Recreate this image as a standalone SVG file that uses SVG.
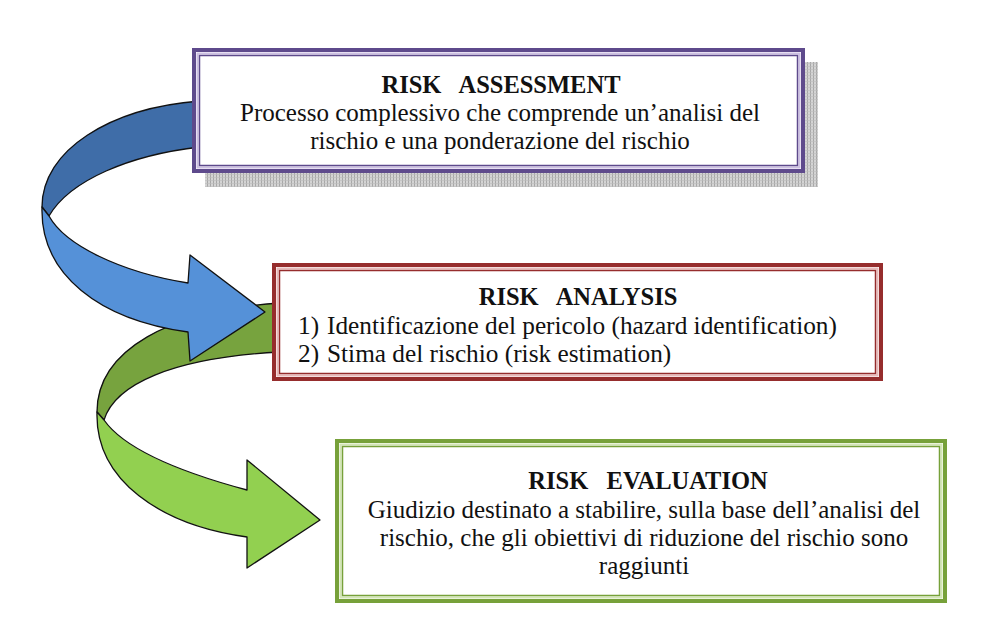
<svg xmlns="http://www.w3.org/2000/svg" width="1008" height="643" viewBox="0 0 1008 643">
<style>
  .t { font-family: "Liberation Serif", "Times New Roman", "DejaVu Serif", serif; font-size: 25px; fill: #111; white-space: pre; }
  .b { font-weight: bold; font-size: 24.5px; }
  .m { font-size: 25.3px; }
  .c { text-anchor: middle; }
  .arrow { stroke: #111; stroke-width: 1.3; stroke-linejoin: round; }
</style>
<defs>
  <pattern id="grid" width="3" height="3" patternUnits="userSpaceOnUse">
    <rect width="3" height="3" fill="#d4d4d4"/>
    <rect width="1" height="3" fill="#a8a8a8"/>
    <rect width="3" height="0.6" fill="#bdbdbd"/>
  </pattern>
</defs>
<rect width="1008" height="643" fill="#ffffff"/>

<g id="connectors">
  <g id="arrow-green">
    <path class="arrow" fill="#77A33E" d="M280,303 C170,310 97,350 97,412 L104,420 C115,385 170,358 280,352 Z"/>
    <path class="arrow" fill="#92D050" d="M97,412 C95,480 160,525 247,537 L247,568 L320,520 L247,460 L247,490 C180,472 125,450 104,420 Z"/>
  </g>
  <g id="arrow-blue">
    <path class="arrow" fill="#3F6DA8" d="M200,101 C110,108 42,150 42,207 L49,216 C70,180 130,155 200,147 Z"/>
    <path class="arrow" fill="#5591D8" d="M42,207 C40,275 100,320 188,332 L190,361 L265,312 L190,255 L188,283 C120,272 65,245 49,216 Z"/>
  </g>
</g>

<g id="node-assessment">
  <rect x="205" y="62" width="613" height="125" fill="url(#grid)"/>
  <rect x="194" y="50" width="609" height="121" fill="#ffffff" stroke="#5E4A8C" stroke-width="4"/>
  <rect x="197.5" y="53.5" width="602" height="114" fill="none" stroke="#CDBFE3" stroke-width="2"/>
  <rect x="199.5" y="55.5" width="598" height="110" fill="none" stroke="#5E4A8C" stroke-width="1.5"/>
  <text class="t b c" x="501" y="93">RISK   ASSESSMENT</text>
  <text class="t c" x="500" y="121">Processo complessivo che comprende un’analisi del</text>
  <text class="t c" x="500" y="149">rischio e una ponderazione del rischio</text>
</g>

<g id="node-analysis">
  <rect x="274" y="265" width="607" height="114" fill="#ffffff" stroke="#962D2D" stroke-width="4"/>
  <rect x="277.5" y="268.5" width="600" height="107" fill="none" stroke="#E8B9B9" stroke-width="2"/>
  <rect x="279.5" y="270.5" width="596" height="103" fill="none" stroke="#962D2D" stroke-width="1.5"/>
  <text class="t b c" x="578" y="305">RISK   ANALYSIS</text>
  <text class="t m" x="298" y="334">1)</text>
  <text class="t m" x="327" y="334">Identificazione del pericolo (hazard identification)</text>
  <text class="t m" x="298" y="362">2)</text>
  <text class="t m" x="327" y="362">Stima del rischio (risk estimation)</text>
</g>

<g id="node-evaluation">
  <rect x="337" y="441" width="608" height="160" fill="#ffffff" stroke="#77A13A" stroke-width="4"/>
  <rect x="340.5" y="444.5" width="601" height="153" fill="none" stroke="#D3E6B5" stroke-width="2"/>
  <rect x="342.5" y="446.5" width="597" height="149" fill="none" stroke="#77A13A" stroke-width="1.5"/>
  <text class="t b c" x="648" y="489">RISK   EVALUATION</text>
  <text class="t c" x="644" y="518">Giudizio destinato a stabilire, sulla base dell’analisi del</text>
  <text class="t c" x="644" y="546">rischio, che gli obiettivi di riduzione del rischio sono</text>
  <text class="t c" x="644" y="574">raggiunti</text>
</g>
</svg>
